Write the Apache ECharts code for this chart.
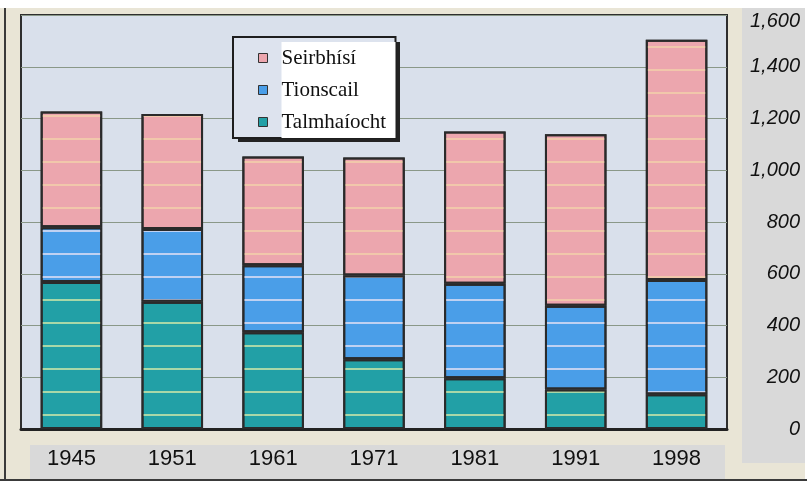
<!DOCTYPE html>
<html>
<head>
<meta charset="utf-8">
<script src="https://cdn.jsdelivr.net/npm/echarts@6/dist/echarts.min.js"></script>
<style>
html,body{margin:0;padding:0;background:#e9e5d6;}
#chart{width:807px;height:481px;}
</style>
</head>
<body>
<div id="chart"></div>
<script>
var years = ['1945','1951','1961','1971','1981','1991','1998'];
var talmhaiocht = [568, 492, 374, 270, 196, 153, 134];
var tionscail   = [212, 281, 259, 323, 365, 323, 442];
var seirbhisi   = [447, 444, 420, 456, 589, 663, 928];
var seriesNames = ['Talmhaíocht', 'Tionscail', 'Seirbhísí'];
var legendOrder = ['Seirbhísí', 'Tionscail', 'Talmhaíocht'];
var yTicks = { min: 0, max: 1600, interval: 200 };

var colors = { 'Talmhaíocht': '#22a0a6', 'Tionscail': '#4a9ee8', 'Seirbhísí': '#eca6ae' };
var stripe = { 'Talmhaíocht': 'rgba(225,240,170,0.7)', 'Tionscail': 'rgba(230,225,245,0.75)', 'Seirbhísí': 'rgba(245,225,170,0.55)' };
var dataBySeries = { 'Talmhaíocht': talmhaiocht, 'Tionscail': tionscail, 'Seirbhísí': seirbhisi };

var chart = echarts.init(document.getElementById('chart'), null, { renderer: 'canvas' });

var series = seriesNames.map(function (n) {
  return {
    name: n,
    type: 'bar',
    stack: 'total',
    barCategoryGap: '39%',
    data: dataBySeries[n],
    itemStyle: {
      color: colors[n],
      borderColor: '#2a2a2a',
      borderWidth: 2,
      decal: {
        symbol: 'rect',
        symbolSize: 1,
        dashArrayX: [1, 0],
        dashArrayY: [2, 21],
        rotation: 0,
        color: stripe[n]
      }
    },
    emphasis: { disabled: true }
  };
});

chart.setOption({
  animation: false,
  backgroundColor: '#e9e5d6',
  graphic: [
    { type: 'rect', z: -100, shape: { x: 0, y: 0, width: 807, height: 8 }, style: { fill: '#ffffff' } },
    { type: 'rect', z: -100, shape: { x: 742, y: 8, width: 63, height: 455 }, style: { fill: '#d9d9d9' } },
    { type: 'rect', z: -100, shape: { x: 805, y: 0, width: 2, height: 479 }, style: { fill: '#ffffff' } },
    { type: 'rect', z: -100, shape: { x: 30, y: 445, width: 695, height: 34 }, style: { fill: '#d9d9d9' } },
    { type: 'rect', z: -100, shape: { x: 4, y: 8, width: 2, height: 473 }, style: { fill: '#3a3a3a' } },
    { type: 'rect', z: -100, shape: { x: 0, y: 479, width: 807, height: 2 }, style: { fill: '#3a3a3a' } },
    // legend drop shadow
    { type: 'rect', z: 3, shape: { x: 238, y: 42, width: 162, height: 100 }, style: { fill: '#232323' } }
  ],
  grid: {
    left: 21, right: 80, top: 15, bottom: 52,
    show: true,
    backgroundColor: '#d9e0eb',
    borderColor: '#2e2e2e',
    borderWidth: 2
  },
  legend: {
    data: legendOrder,
    orient: 'vertical',
    left: 233,
    top: 37,
    z: 6,
    padding: [5, 0, 0, 25],
    itemGap: 0,
    itemWidth: 9,
    itemHeight: 9,
    icon: 'rect',
    itemStyle: { borderWidth: 1, borderColor: '#333', decal: 'none' },
    backgroundColor: '#dde3ee',
    borderColor: '#1e1e1e',
    borderWidth: 2,
    selectedMode: false,
    formatter: function (name) { return '{g| }{t|' + name + '}'; },
    textStyle: {
      rich: {
        g: { width: 9, fontSize: 20, backgroundColor: 'transparent' },
        t: {
          width: 114, height: 32, lineHeight: 32,
          backgroundColor: '#ffffff',
          fontFamily: '"Liberation Serif", "DejaVu Serif", serif',
          fontSize: 21, color: '#111'
        }
      }
    }
  },
  xAxis: {
    type: 'category',
    data: years,
    axisLine: { show: true, lineStyle: { color: '#222', width: 3 } },
    axisTick: { show: false },
    axisLabel: {
      margin: 19,
      fontFamily: '"Liberation Sans", Arial, sans-serif',
      fontSize: 22,
      color: '#111'
    },
    splitLine: { show: false }
  },
  yAxis: {
    type: 'value',
    position: 'right',
    min: yTicks.min,
    max: yTicks.max,
    interval: yTicks.interval,
    axisLine: { show: false },
    axisTick: { show: false },
    axisLabel: {
      align: 'right',
      margin: 73,
      fontFamily: '"Liberation Sans", Arial, sans-serif',
      fontStyle: 'italic',
      fontSize: 20,
      color: '#111',
      formatter: function (v) {
        var s = v.toLocaleString('en-US');
        return v === yTicks.max ? '{top|' + s + '}' : s;
      },
      rich: {
        top: {
          padding: [12, 0, 0, 0],
          fontFamily: '"Liberation Sans", Arial, sans-serif',
          fontStyle: 'italic',
          fontSize: 20,
          color: '#111'
        }
      }
    },
    splitLine: { show: true, lineStyle: { color: '#8a9888', width: 1 } }
  },
  series: series
});
</script>
</body>
</html>
